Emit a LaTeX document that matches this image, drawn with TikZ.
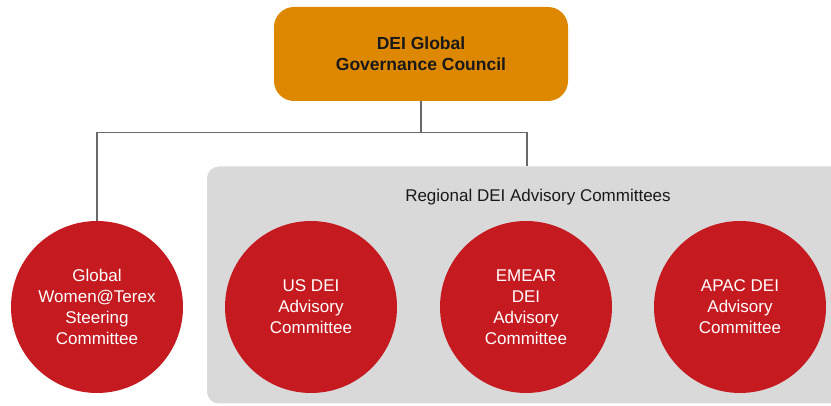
\documentclass[tikz,border=0pt]{standalone}
\usepackage{fontspec}
\setmainfont{Liberation Sans}
\definecolor{councilorange}{RGB}{221,136,0}
\definecolor{committeered}{RGB}{196,26,32}
\definecolor{regionalgray}{RGB}{217,217,217}
\definecolor{linkgray}{RGB}{105,105,105}
\definecolor{textdark}{RGB}{25,25,25}
\begin{document}
\begin{tikzpicture}[x=1pt,y=-1pt,
    council/.style={rectangle,rounded corners=20pt,fill=councilorange,
        minimum width=294pt,minimum height=94pt,align=center,text=textdark,
        font=\fontsize{17.5}{21}\selectfont\bfseries},
    regionbox/.style={rectangle,rounded corners=12pt,fill=regionalgray,
        minimum width=640pt,minimum height=237pt},
    committee/.style={circle,fill=committeered,minimum size=172pt,inner sep=0pt,
        align=center,text=white,font=\fontsize{17}{21}\selectfont},
    link/.style={draw=linkgray,line width=1.3pt}]
\useasboundingbox (0,0) rectangle (831,406);
\clip (0,0) rectangle (831,406);

% Drawing council box
\node [council] (council) at (421,54) {DEI Global\\Governance Council};

% Drawing regional area
\node [regionbox] (regional) at (527,285) {};
\node [text=textdark,font=\fontsize{17}{21}\selectfont] (regtitle) at (538,197) {Regional DEI Advisory Committees};

% Drawing committee circles
\node [committee] (women) at (97,307) {Global\\Women@Terex\\Steering\\Committee};
\node [committee] (us) at (311,307) {US DEI\\Advisory\\Committee};
\node [committee] (emear) at (526,307) {EMEAR\\DEI\\Advisory\\Committee};
\node [committee] (apac) at (740,307) {APAC DEI\\Advisory\\Committee};

% Drawing links
\draw [link] (council.south) -- ++(0,31) coordinate (split);
\draw [link] (women.north) |- (split) -| (regional.north);
\end{tikzpicture}
\end{document}
